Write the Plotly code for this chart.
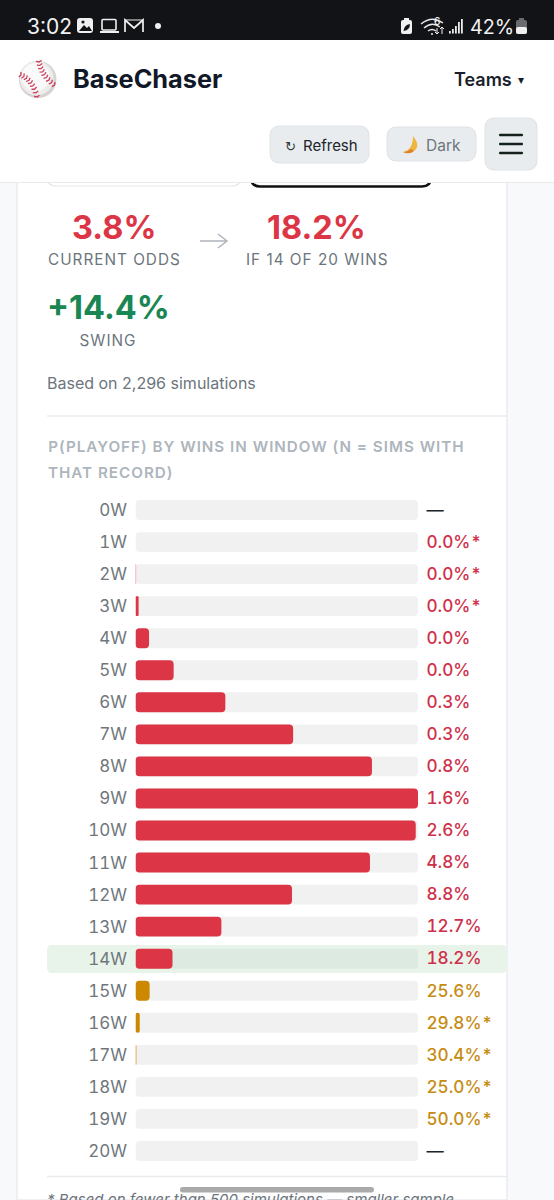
import plotly.graph_objects as go

W, H = 554, 1200

# ---- data ----
win_labels = ["0W","1W","2W","3W","4W","5W","6W","7W","8W","9W","10W","11W","12W","13W","14W","15W","16W","17W","18W","19W","20W"]
sim_share = [0,0,0.2,1.1,4.8,13.5,31.8,55.8,83.7,100,99.2,83.0,55.4,30.4,13.1,5.0,1.5,0.3,0,0,0]
playoff_pct = [None,0.0,0.0,0.0,0.0,0.0,0.3,0.3,0.8,1.6,2.6,4.8,8.8,12.7,18.2,25.6,29.8,30.4,25.0,50.0,None]
low_sample = [False,True,True,True,False,False,False,False,False,False,False,False,False,False,False,False,True,True,True,True,False]
full_track = [100]*21
zero_base = [0]*21

RED = "#dc3545"; RED_TXT = "#cf3049"; GOLD = "#cc8800"; GOLD_TXT = "#c68c12"
FONT = "Inter"

bar_colors = [RED if (p is None or p < 25) else GOLD for p in playoff_pct]
val_text = ["—" if p is None else f"{p:.1f}%" + ("*" if s else "") for p, s in zip(playoff_pct, low_sample)]
val_colors = ["#212529" if p is None else (RED_TXT if p < 25 else GOLD_TXT) for p in playoff_pct]
track_colors = ["#dceae1" if w == "14W" else "#f1f1f1" for w in win_labels]

fx = lambda x: x / W
fy = lambda y: 1 - y / H

shapes, annos = [], []

def rect(x0, y0, x1, y1, fill, line=None, lw=1, r=0, layer="below"):
    if r:
        d = (f"M {fx(x0+r)} {fy(y0)} L {fx(x1-r)} {fy(y0)} Q {fx(x1)} {fy(y0)} {fx(x1)} {fy(y0+r)} "
             f"L {fx(x1)} {fy(y1-r)} Q {fx(x1)} {fy(y1)} {fx(x1-r)} {fy(y1)} "
             f"L {fx(x0+r)} {fy(y1)} Q {fx(x0)} {fy(y1)} {fx(x0)} {fy(y1-r)} "
             f"L {fx(x0)} {fy(y0+r)} Q {fx(x0)} {fy(y0)} {fx(x0+r)} {fy(y0)} Z")
        shapes.append(dict(type="path", path=d, xref="paper", yref="paper", fillcolor=fill,
                           line=dict(color=line or "rgba(0,0,0,0)", width=lw if line else 0), layer=layer))
    else:
        shapes.append(dict(type="rect", x0=fx(x0), x1=fx(x1), y0=fy(y0), y1=fy(y1), xref="paper", yref="paper",
                           fillcolor=fill, line=dict(color=line or "rgba(0,0,0,0)", width=lw if line else 0), layer=layer))

def pth(points, color=None, lw=1.5, fill=None, close=False, layer="below"):
    d = ""
    for cmd in points:
        c = cmd[0]
        coords = cmd[1:]
        d += c + " " + " ".join(f"{fx(coords[i])} {fy(coords[i+1])}" for i in range(0, len(coords), 2)) + " "
    if close:
        d += "Z"
    shapes.append(dict(type="path", path=d, xref="paper", yref="paper",
                       fillcolor=fill or "rgba(0,0,0,0)",
                       line=dict(color=color or "rgba(0,0,0,0)", width=lw if color else 0), layer=layer))

def circle(cx, cy, r, fill, line=None, lw=1, layer="below"):
    shapes.append(dict(type="circle", x0=fx(cx-r), x1=fx(cx+r), y0=fy(cy-r), y1=fy(cy+r), xref="paper", yref="paper",
                       fillcolor=fill, line=dict(color=line or "rgba(0,0,0,0)", width=lw if line else 0), layer=layer))

def text(x, y, s, size, color, anchor="left", weight=400, family=FONT, style="normal"):
    annos.append(dict(x=fx(x), y=fy(y), xref="paper", yref="paper", text=s, showarrow=False, xanchor=anchor,
                      yanchor="middle", borderpad=0, borderwidth=0,
                      font=dict(size=size, color=color, family=family, weight=weight, style=style)))

# ---- page ----
rect(0, 0, W, H, "#f8f9fa")
rect(17, 170, 507, H, "#ffffff", "#e9ecef", 1.5)
# hidden tabs
rect(47, 150, 241, 186, "#ffffff", "#e5e7ea", 1.2, r=9)
rect(251, 150, 431, 186.5, "#ffffff", "#111111", 2.5, r=9)
# header
rect(0, 40, W, 182, "#ffffff")
shapes.append(dict(type="line", x0=0, x1=1, y0=fy(182.5), y1=fy(182.5), xref="paper", yref="paper",
                   line=dict(color="#e8eaec", width=1), layer="below"))
# status bar
rect(0, 0, W, 40, "#121316")
text(27, 26.5, "3:02", 21, "#f2f2f2")
text(470, 26.5, "42%", 19.8, "#f2f2f2")
# image icon
rect(77, 18, 93, 33, "#f0f0f0", r=3)
pth([("M", 79, 31), ("L", 84, 25), ("L", 87, 28), ("L", 89, 26), ("L", 92, 31)], fill="#121316", close=True)
circle(83, 22, 1.6, "#121316")
# laptop
rect(102, 19.5, 116, 30, "#121316", "#f0f0f0", 1.6, r=1)
rect(100, 31, 119, 33, "#f0f0f0")
# M icon
pth([("M", 125, 32), ("L", 125, 20), ("L", 134, 28), ("L", 143, 20), ("L", 143, 32)], color="#f0f0f0", lw=1.7)
pth([("M", 125, 20), ("L", 143, 20)], color="#f0f0f0", lw=1)
circle(158, 26, 3, "#f0f0f0")
# battery saver icon
rect(401, 20, 412, 34, "#f0f0f0", r=2)
rect(404, 18, 409, 21, "#f0f0f0")
pth([("M", 403.5, 31), ("Q", 404, 25, 410, 24), ("Q", 410, 30, 403.5, 31)], fill="#121316", close=True)
# wifi
pth([("M", 421, 24), ("Q", 432, 15, 443, 23)], color="#e8e8e8", lw=1.4)
pth([("M", 424, 28), ("Q", 432, 21, 440, 27)], color="#e8e8e8", lw=1.4)
pth([("M", 428, 31), ("Q", 432, 28, 436, 31)], color="#e8e8e8", lw=1.4)
circle(432, 34, 1, "#e8e8e8")
text(434, 21, "6", 10, "#f0f0f0", weight=500)
pth([("M", 437, 28), ("L", 437, 34), ("M", 435, 32), ("L", 437, 34), ("L", 439, 32)], color="#f0f0f0", lw=1)
pth([("M", 442, 34), ("L", 442, 27), ("M", 440, 29), ("L", 442, 27), ("L", 444, 29)], color="#f0f0f0", lw=1)
# signal
for sx, st in zip([449, 452, 455, 458, 461], [31, 29, 26, 22, 19]):
    rect(sx, st, sx + 1.8, 33.5, "#ebebeb")
# battery
rect(516, 20, 527, 34, "#6a6b6e", r=2)
rect(519, 18, 524, 21, "#6a6b6e")
rect(516, 27, 527, 34, "#f0f0f0", r=2)

# logo baseball
circle(37.7, 79.5, 18.8, "#d8d3d3")
circle(36.7, 78.2, 17, "#efecec")
circle(35.7, 77, 14, "#fafafa")
def seam(x0, y0, cx, cy, x1, y1, n=8):
    out = []
    for i in range(n + 1):
        t = i / n
        x = (1-t)**2*x0 + 2*(1-t)*t*cx + t*t*x1
        y = (1-t)**2*y0 + 2*(1-t)*t*cy + t*t*y1
        dx = 2*(1-t)*(cx-x0) + 2*t*(x1-cx)
        dy = 2*(1-t)*(cy-y0) + 2*t*(y1-cy)
        L = (dx*dx + dy*dy) ** 0.5
        nx, ny = -dy/L, dx/L
        out += [("M", x+nx*2.8-dx/L*1.2, y+ny*2.8-dy/L*1.2), ("L", x, y), ("L", x-nx*2.8-dx/L*1.2, y-ny*2.8-dy/L*1.2)]
    return out
pth(seam(21, 75, 33, 80, 37, 97), color="#c9415c", lw=1.3)
pth(seam(39, 62, 42, 76, 54.5, 85), color="#c9415c", lw=1.3)

text(73, 79, "BaseChaser", 25.3, "#111827", weight=700)
text(454, 79.5, "Teams", 18, "#1a1f2b", weight=600)
text(518, 79.5, "▾", 12, "#1a1f2b", family="DejaVu Sans")

# buttons
rect(270, 126, 369, 163, "#e9ecef", "#dee2e6", 1, r=10)
text(285, 146, "↻", 13, "#343a40", family="DejaVu Sans")
text(303, 145, "Refresh", 15, "#212529", weight=400)
rect(387, 127, 476, 161, "#e9ecef", "#dee2e6", 1, r=10)
pth([("M", 413, 136), ("Q", 421, 146, 414, 151), ("Q", 409, 155, 403, 152), ("Q", 413, 150, 413, 136)], fill="#f0b53e", close=True)
pth([("M", 414, 151), ("Q", 409, 155, 403, 152), ("Q", 408, 152, 411, 149)], fill="#df7f2d", close=True)
text(426, 145, "Dark", 15.5, "#6c757d")
rect(485, 118, 537, 170, "#e9ecef", "#dee2e6", 1, r=10)
for ly in (135, 144, 153):
    rect(499, ly - 1.3, 523, ly + 1.3, "#14201a", r=1)

# stats
text(113.5, 228, "3.8%", 32.5, RED, "center", 700)
text(114, 259, "CURRENT ODDS", 15.3, "#6c757d", "center")
pth([("M", 200, 241), ("L", 227, 241), ("M", 218, 234), ("L", 227, 241), ("L", 218, 248)], color="#adb5bd", lw=1.5)
text(316.5, 228, "18.2%", 32.5, RED, "center", 700)
text(317, 259, "IF 14 OF 20 WINS", 15.3, "#6c757d", "center")
text(108, 308, "+14.4%", 32.5, "#198754", "center", 700)
text(108, 340, "SWING", 15.3, "#6c757d", "center")
text(47, 382.5, "Based on 2,296 simulations", 16, "#6c757d")
shapes.append(dict(type="line", x0=fx(47), x1=fx(507), y0=fy(416), y1=fy(416), xref="paper", yref="paper",
                   line=dict(color="#dee2e6", width=1.2), layer="below"))
text(256, 446.5, "P(PLAYOFF) BY WINS IN WINDOW (N = SIMS WITH", 15.2, "#adb5bd", "center", 600)
text(110, 472.5, "THAT RECORD)", 15.2, "#adb5bd", "center", 600)

# highlight row
rect(47, 945, 507, 973, "#e8f4ea", r=5)

# footer
shapes.append(dict(type="line", x0=fx(47), x1=fx(507), y0=fy(1176.5), y1=fy(1176.5), xref="paper", yref="paper",
                   line=dict(color="#e9ecef", width=1.6), layer="below"))
text(47, 1199, "* Based on fewer than 500 simulations — smaller sample", 15, "#6c757d", style="italic")
rect(180, 1187, 374, 1192.5, "#aaaaaa", r=2.7, layer="above")

fig = go.Figure()
# an explicit base makes plotly round both ends of a bar
fig.add_bar(y=win_labels, x=full_track, base=zero_base, orientation="h", width=0.62,
            marker=dict(color=track_colors, line_width=0), showlegend=False, hoverinfo="skip")
fig.add_bar(y=win_labels, x=sim_share, base=zero_base, orientation="h", width=0.62,
            marker=dict(color=bar_colors, line_width=0), showlegend=False, hoverinfo="skip")
fig.add_scatter(y=win_labels, x=[103.0]*21, yaxis="y2", mode="text", text=val_text, textposition="middle right",
                textfont=dict(size=17.2, color=val_colors, family=FONT, weight=500), cliponaxis=False,
                showlegend=False, hoverinfo="skip")

x_left, x_track_end, x_right = 135.5, 418.0, 507.0
fig.update_layout(
    width=W, height=H, margin=dict(l=0, r=0, t=0, b=0), autosize=False,
    paper_bgcolor="#f8f9fa", plot_bgcolor="rgba(0,0,0,0)",
    barmode="overlay", barcornerradius=4, showlegend=False,
    shapes=shapes, annotations=annos,
    xaxis=dict(domain=[x_left / W, x_right / W], range=[0, 100 * (x_right - x_left) / (x_track_end - x_left)],
               visible=False, fixedrange=True),
    yaxis=dict(domain=[fy(1167), fy(494)], type="category", categoryorder="array", categoryarray=win_labels,
               range=[20.5, -0.5], showgrid=False, zeroline=False, showline=False,
               ticks="outside", ticklen=4, tickcolor="rgba(0,0,0,0)", fixedrange=True,
               tickfont=dict(size=17, color="#70767c", family=FONT)),
    yaxis2=dict(domain=[fy(1168.5), fy(495.5)], type="category", categoryorder="array", categoryarray=win_labels,
                range=[20.5, -0.5], visible=False, anchor="x", fixedrange=True),
)

post = """
document.documentElement.style.margin='0';document.body.style.margin='0';document.body.style.overflow='hidden';
document.querySelectorAll('.annotation text').forEach(function(t){
  var s=t.textContent;
  if(s===s.toUpperCase() && /[A-Z]{3}/.test(s)){t.style.letterSpacing='1px';}
});
document.querySelectorAll('.ytick text, .textpoint text').forEach(function(t){
  t.style.fontVariantNumeric='tabular-nums';
});
"""
fig.write_html("out.html", config=dict(displayModeBar=False, staticPlot=True), post_script=post)
